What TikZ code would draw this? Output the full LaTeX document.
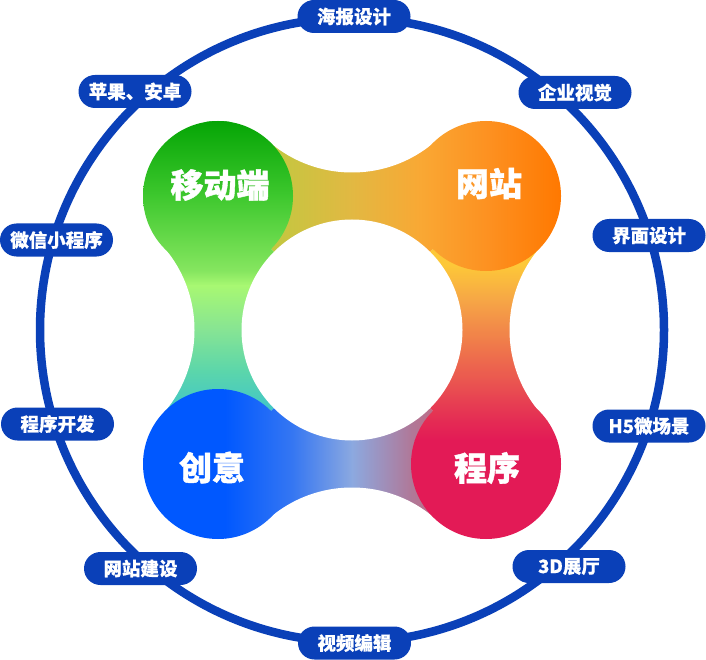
\documentclass[tikz,border=0pt]{standalone}
\usepackage{fontspec}
\newfontfamily\cjk{Noto Sans CJK SC}[BoldFeatures={FakeBold=0.4}]
\newfontfamily\cjkheavy{Noto Sans CJK SC}[BoldFeatures={FakeBold=1.2}]
\definecolor{ringblue}{HTML}{0A40B8}
% top (horizontal) group
\definecolor{ta}{HTML}{C2C840}
\definecolor{tb}{HTML}{E2B842}
\definecolor{tc}{HTML}{F9A834}
\definecolor{td}{HTML}{FD9020}
\definecolor{te}{HTML}{FF7800}
% left (vertical) group
\definecolor{la}{HTML}{05A505}
\definecolor{lb}{HTML}{3EC82E}
\definecolor{lc}{HTML}{86E660}
\definecolor{ld}{HTML}{A8F872}
\definecolor{le}{HTML}{86E494}
\definecolor{lf}{HTML}{5CD6AA}
\definecolor{lg}{HTML}{44C8C4}
% bottom (horizontal) group
\definecolor{ba}{HTML}{0058FF}
\definecolor{bb}{HTML}{3677F2}
\definecolor{bc}{HTML}{8CA9E0}
\definecolor{bd}{HTML}{B07898}
\definecolor{be}{HTML}{C4687F}
% right (vertical) group
\definecolor{ra}{HTML}{FDC838}
\definecolor{rb}{HTML}{F6A646}
\definecolor{rc}{HTML}{F07E4A}
\definecolor{rd}{HTML}{EA5650}
\definecolor{re}{HTML}{E42C54}
\definecolor{rf}{HTML}{E31A56}
\newcommand\hseg[4]{\shade[left color=#2,right color=#4] (#1,0) rectangle ({#3+0.6},660);}
\newcommand\vseg[4]{\shade[top color=#2,bottom color=#4] (0,#1) rectangle (706,{#3+0.6});}
\newcommand\gradTop{\hseg{0}{ta}{270}{ta}\hseg{270}{ta}{352}{tb}\hseg{352}{tb}{420}{tc}\hseg{420}{tc}{490}{td}\hseg{490}{td}{561}{te}\hseg{561}{te}{706}{te}}
\newcommand\gradLeft{\vseg{0}{la}{121}{la}\vseg{121}{la}{196}{lb}\vseg{196}{lb}{271}{lc}\vseg{271}{lc}{285}{ld}\vseg{285}{ld}{330}{le}\vseg{330}{le}{370}{lf}\vseg{370}{lf}{405}{lg}\vseg{405}{lg}{660}{lg}}
\newcommand\gradBottom{\hseg{0}{ba}{225}{ba}\hseg{225}{ba}{293}{bb}\hseg{293}{bb}{352}{bc}\hseg{352}{bc}{411}{bd}\hseg{411}{bd}{445}{be}\hseg{445}{be}{706}{be}}
\newcommand\gradRight{\vseg{0}{ra}{265}{ra}\vseg{265}{ra}{300}{rb}\vseg{300}{rb}{340}{rc}\vseg{340}{rc}{380}{rd}\vseg{380}{rd}{420}{re}\vseg{420}{re}{440}{rf}\vseg{440}{rf}{660}{rf}}
\tikzset{
  pill/.style={fill=ringblue, text=white, rounded corners=16.5pt, minimum width=113pt,
    minimum height=33pt, inner sep=0pt, font=\cjk\bfseries\fontsize{18.5}{18.5}\selectfont},
  biglabel/.style={text=white, inner sep=0pt, font=\cjkheavy\bfseries\fontsize{33}{33}\selectfont},
  ringline/.style={draw=ringblue, line width=8.5pt},
  cutout/.style={fill=white}
}
\begin{document}
\begin{tikzpicture}[x=1pt,y=-1pt]
\useasboundingbox (0,0) rectangle (706,660);
\fill[white] (0,0) rectangle (706,660);
\coordinate (C) at (352,330);
\coordinate (G) at (218,196);
\coordinate (O) at (486,196);
\coordinate (B) at (218,464);
\coordinate (R) at (486,464);
\coordinate (T) at (352,45.5);
\coordinate (L) at (67.5,330);
\coordinate (K) at (636.5,330);
\coordinate (D) at (352,614.5);
% bridges
\begin{scope}\clip (G) -- (T) -- (O) -- (C) -- cycle; \gradTop \end{scope}
\begin{scope}\clip (G) -- (L) -- (B) -- (C) -- cycle; \gradLeft \end{scope}
\begin{scope}\clip (B) -- (D) -- (R) -- (C) -- cycle; \gradBottom \end{scope}
\begin{scope}\clip (O) -- (K) -- (R) -- (C) -- cycle; \gradRight \end{scope}
% cut-outs
\fill[cutout] (T) circle (127);
\fill[cutout] (L) circle (127);
\fill[cutout] (K) circle (127);
\fill[cutout] (D) circle (127);
\fill[cutout] (C) circle (110.5);
% circles
\begin{scope}\clip (G) circle (75); \gradLeft \end{scope}
\begin{scope}\clip (O) circle (75); \gradTop \end{scope}
\begin{scope}\clip (B) circle (75); \gradBottom \end{scope}
\begin{scope}\clip (R) circle (75); \gradRight \end{scope}
\node[biglabel] (lG) at (220,185) {移动端};
\node[biglabel] (lO) at (489,183.5) {网站};
\node[biglabel] (lB) at (212,467.5) {创意};
\node[biglabel] (lR) at (487,468) {程序};
% ring
\draw[ringline] (C) circle (312);
% pills
\node[pill] (p1) at (354,16.5) {海报设计};
\node[pill] (p2) at (135,91.5) {苹果、安卓};
\node[pill] (p3) at (575,92.5) {企业视觉};
\node[pill] (p4) at (56.5,240) {微信小程序};
\node[pill] (p5) at (649,235.5) {界面设计};
\node[pill] (p6) at (57.5,424) {程序开发};
\node[pill] (p7) at (649,426) {H5微场景};
\node[pill] (p8) at (140.5,568.5) {网站建设};
\node[pill] (p9) at (569,566.5) {3D展厅};
\node[pill] (p10) at (354.5,643) {视频编辑};
\end{tikzpicture}
\end{document}
